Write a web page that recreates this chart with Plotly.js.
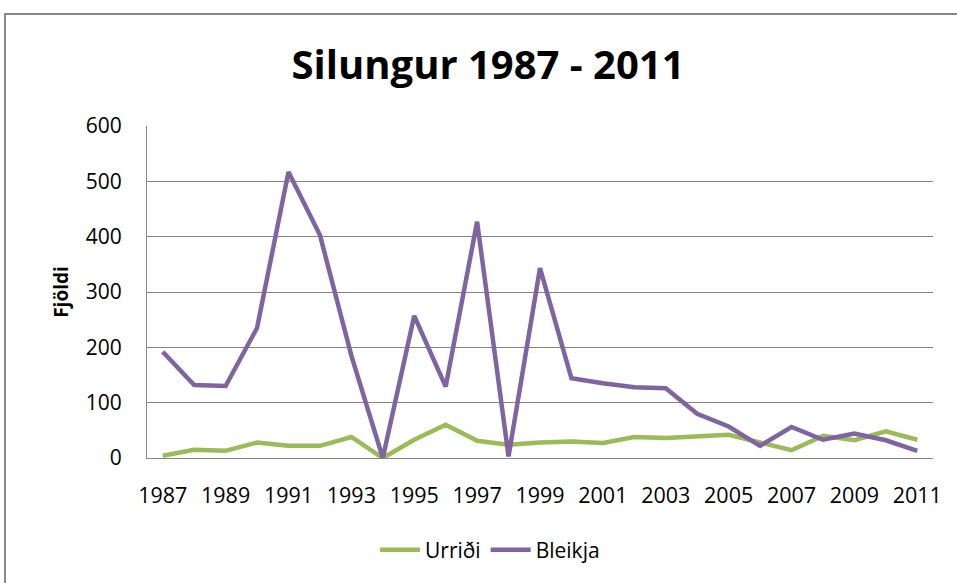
<!DOCTYPE html>
<html>
<head>
<meta charset="utf-8">
<script src="https://cdn.plot.ly/plotly-3.0.1.min.js"></script>
<style>
html,body{margin:0;padding:0;background:#fff;overflow:hidden;}
#chart{position:absolute;left:0;top:0;width:957px;height:583px;}
#frame{position:absolute;left:4px;top:13px;width:1000px;height:600px;border:2px solid #888;pointer-events:none;}
</style>
</head>
<body>
<div id="chart"></div>
<div id="frame"></div>
<script>
var years = ["1987","1988","1989","1990","1991","1992","1993","1994","1995","1996","1997","1998","1999","2000","2001","2002","2003","2004","2005","2006","2007","2008","2009","2010","2011"];
var urridi = [4,15,13,28,22,22,38,0,33,60,31,24,28,30,27,38,36,40,42,28,14,40,32,48,33];
var bleikja = [192,132,130,235,517,403,185,0,257,129,427,3,343,144,135,128,126,80,57,22,56,33,44,32,13];
var xTickLabels = ["1987","1989","1991","1993","1995","1997","1999","2001","2003","2005","2007","2009","2011"];
var yTicks = [0,100,200,300,400,500,600];

var traces = [
  {x: years, y: urridi, name: "Urriði", type: "scatter", mode: "lines",
   line: {color: "#9BBB59", width: 4.5}},
  {x: years, y: bleikja, name: "Bleikja", type: "scatter", mode: "lines",
   line: {color: "#8064A2", width: 4.5}}
];

var layout = {
  width: 957, height: 583,
  paper_bgcolor: "#fff", plot_bgcolor: "#fff",
  margin: {l: 147, r: 24, t: 126, b: 125},
  font: {family: "Open Sans, sans-serif", color: "#000"},
  title: {text: "<b>Silungur 1987 - 2011</b>", font: {size: 40, family: "Open Sans, sans-serif", color: "#000"},
          x: 0.51, xref: "container", xanchor: "center", y: 1 - 65/583, yref: "container", yanchor: "middle"},
  xaxis: {type: "category", tickmode: "array", tickvals: xTickLabels, ticktext: xTickLabels,
          showgrid: false, zeroline: false, showline: true, linecolor: "#868686", linewidth: 1,
          ticks: "", ticklabelstandoff: 18, tickfont: {size: 21.5, color: "#000"},
          range: [-0.5, 24.5]},
  yaxis: {range: [0, 600], tickmode: "array", tickvals: yTicks, ticktext: yTicks.map(String),
          showgrid: true, gridcolor: "#868686", gridwidth: 1, zeroline: false,
          showline: true, linecolor: "#868686", linewidth: 1, ticks: "",
          ticklabelstandoff: 20, tickfont: {size: 21, color: "#000"},
          title: {text: "<b>Fjöldi</b>", font: {size: 19, color: "#000"}, standoff: 12}},
  showlegend: true,
  legend: {orientation: "h", xref: "container", yref: "container", x: 0.512, xanchor: "center",
           y: 1 - 550/583, yanchor: "middle", font: {size: 21, color: "#000"}, itemwidth: 40}
};

Plotly.newPlot("chart", traces, layout, {displayModeBar: false, staticPlot: true});
</script>
</body>
</html>
